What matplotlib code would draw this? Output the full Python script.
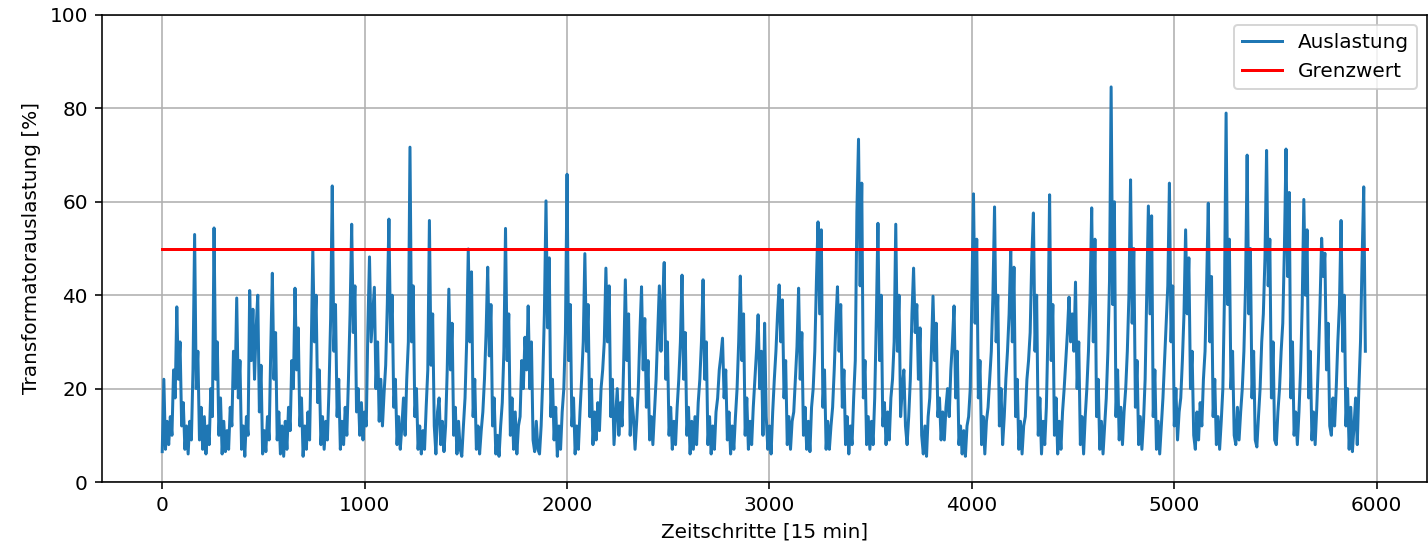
import numpy as np
import matplotlib
matplotlib.use("Agg")
import matplotlib.pyplot as plt

load_chunks = [
    [6.5, 22],
    [7, 13, 8, 14, 10, 24, 18, 37.5],
    [22, 30, 12, 17, 7, 12, 6, 13, 9, 24, 53],
    [20, 28, 9, 16, 7, 14, 6, 12, 8, 20, 14, 54.4],
    [22, 30, 10, 18, 6, 13, 6.5, 11, 7, 16, 12, 28, 20, 39.4],
    [18, 26, 7, 12, 5.5, 14, 10, 41],
    [26, 37, 22, 33, 40],
    [15, 25, 6, 11, 6.5, 14, 9, 28, 44.7],
    [22, 32, 9, 15, 6, 12, 5.5, 13, 7, 16, 11, 26, 20, 41.5],
    [24, 33, 12, 18, 5.5, 12, 7, 15, 9, 28, 49.7],
    [30, 40, 17, 24, 8, 14, 7, 13, 9, 20, 35, 63.4],
    [28, 38, 14, 22, 7, 13, 8, 16, 10, 22, 36, 55.2],
    [32, 42, 15, 20, 10, 17, 9, 15, 12, 33, 48.2],
    [30, 36, 41.7],
    [20, 30, 13, 22, 12, 19, 25, 38, 56.3],
    [30, 40, 16, 22, 8, 14, 7, 12, 18, 10, 22, 30, 71.7],
    [30, 42, 14, 20, 7, 12, 6, 11, 7, 16, 24, 56],
    [25, 36, 12, 6, 15, 18, 8, 13, 6.5, 12, 24, 41.3],
    [24, 34, 10, 16, 6, 13, 7, 5.5, 12, 18, 30, 49.9],
    [30, 45, 14, 22, 7, 12, 6, 11, 15, 22, 32, 46],
    [27, 38, 12, 18, 6, 10, 5.5, 12, 17, 28, 54.3],
    [26, 36, 10, 18, 7, 15, 6, 12, 14, 26, 20, 31, 24, 37.7],
    [20, 30, 9, 6.5, 13, 7, 6, 12, 22, 36, 60.2],
    [33, 48, 14, 22, 9, 16, 5.5, 12, 7, 15, 20, 32, 65.9],
    [26, 38, 12, 18, 6, 12, 7, 15, 22, 30, 48.9],
    [28, 38, 14, 22, 8, 15, 9, 17, 11, 20, 24, 30, 45.8],
    [30, 42, 14, 22, 8, 14, 20, 10, 17, 12, 26, 43.3],
    [26, 36, 10, 18, 14, 7, 13, 20, 32, 41.8],
    [24, 35, 16, 26, 9, 14, 8, 15, 22, 32, 42, 28, 38, 47],
    [22, 30, 10, 16, 7, 13, 8, 16, 22, 30, 44.3],
    [22, 32, 10, 16, 6, 13, 7, 14, 8, 17, 22, 30, 43.3],
    [22, 30, 8, 14, 6, 12, 7, 15, 18, 24, 27, 30.8],
    [18, 24, 9, 15, 6, 12, 7, 14, 20, 30, 44.1],
    [26, 36, 10, 18, 7, 13, 8, 16, 22, 28, 35.8],
    [20, 28, 10, 34, 14, 7, 12, 6, 15, 22, 28, 36, 42.2],
    [30, 39, 18, 26, 8, 14, 7, 13, 15, 22, 29, 41.5],
    [22, 32, 10, 16, 7, 13, 6.5, 16, 20, 28, 43, 55.7],
    [36, 54, 16, 24, 7, 13, 7, 12, 16, 24, 34, 41.8],
    [28, 38, 16, 24, 8, 14, 6, 12, 8, 18, 26, 58, 73.4],
    [42, 64, 18, 26, 8, 14, 7, 13, 8, 18, 35, 55.4],
    [26, 40, 12, 17, 8, 15, 9, 18, 22, 30, 55.2],
    [28, 40, 14, 20, 24, 12, 8, 14, 22, 36, 45.8],
    [32, 38, 22, 33, 10, 6, 12, 5.5, 14, 18, 28, 39.8],
    [26, 34, 14, 18, 9, 15, 9, 16, 20, 14, 24, 30, 37.7],
    [18, 28, 8, 12, 6, 11, 5.5, 12, 14, 20, 40, 61.7],
    [34, 52, 18, 26, 8, 14, 6, 13, 16, 22, 28, 40, 58.9],
    [30, 40, 12, 20, 8, 14, 22, 28, 36, 49.7],
    [30, 46, 14, 22, 7, 13, 6, 12, 14, 22, 26, 32, 48, 57.6],
    [28, 40, 10, 18, 6, 13, 8, 16, 32, 61.5],
    [26, 38, 10, 18, 6, 13, 7, 15, 20, 26, 32, 39.6],
    [30, 36, 28, 42.8],
    [20, 30, 8, 14, 6, 14, 20, 28, 40, 58.7],
    [30, 52, 14, 22, 7, 13, 6, 12, 18, 28, 43, 84.6],
    [38, 60, 14, 24, 9, 16, 8, 15, 20, 28, 40, 64.7],
    [34, 50, 16, 26, 8, 14, 7, 13, 22, 40, 59.1],
    [36, 57, 14, 24, 7, 13, 6, 12, 18, 26, 34, 42, 64],
    [30, 42, 12, 20, 9, 15, 18, 26, 36, 54],
    [36, 48, 20, 28, 10, 7, 15, 9, 17, 12, 22, 28, 43, 59.7],
    [30, 44, 14, 22, 8, 14, 7, 13, 20, 40, 79],
    [38, 52, 20, 28, 10, 8, 16, 9, 15, 20, 28, 42, 70],
    [36, 50, 18, 28, 9, 7.5, 14, 20, 30, 36, 48, 71],
    [42, 52, 18, 30, 9, 8, 15, 20, 28, 34, 50, 71.3],
    [44, 62, 18, 30, 10, 15, 8, 15, 24, 38, 60.5],
    [40, 54, 18, 28, 9, 15, 8, 16, 26, 38, 52.2],
    [44, 49, 24, 34, 12, 10, 18, 12, 20, 30, 38, 56],
    [28, 40, 12, 20, 7, 16, 6.5, 12, 18, 8, 20, 30, 48, 63.2],
    [28],
]
sample_step = 8
limit_value = 50
limit_range = [0, 5951]

load = np.concatenate([np.array(c, dtype=float) for c in load_chunks])
steps = np.arange(len(load)) * sample_step

DPI = 144
fig = plt.figure(figsize=(1428 / DPI, 546 / DPI), dpi=DPI)
ax = fig.add_axes([102 / 1428, 1 - 482 / 546, 1325 / 1428, 467 / 546])

ax.plot(steps, load, color="#1f77b4", lw=1.5, label="Auslastung")
ax.plot(limit_range, [limit_value, limit_value], color="red", lw=1.5, label="Grenzwert")

ax.set_xlim(limit_range[0] - 0.05 * limit_range[1], limit_range[1] * 1.05)
ax.set_ylim(0, 100)
ax.set_xticks([0, 1000, 2000, 3000, 4000, 5000, 6000])
ax.set_yticks([0, 20, 40, 60, 80, 100])
ax.grid(True)
ax.set_axisbelow(True)
ax.set_xlabel("Zeitschritte [15 min]")
ax.set_ylabel("Transformatorauslastung [%]")
ax.legend(loc="upper right")

fig.savefig("out.png", dpi=DPI)
